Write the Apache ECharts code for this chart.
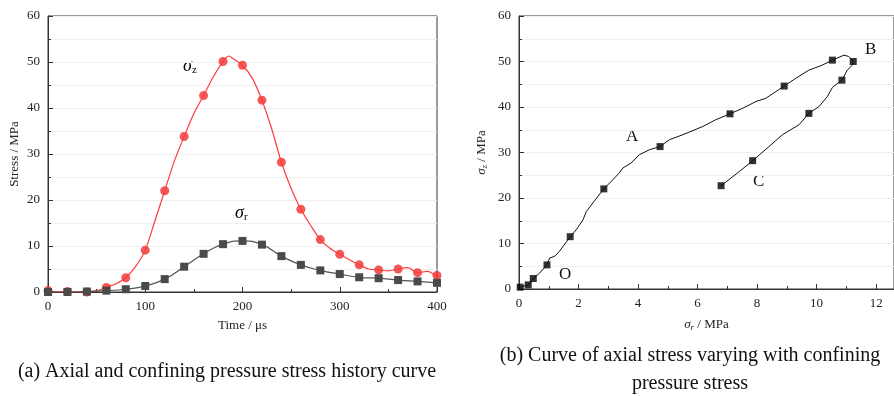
<!DOCTYPE html>
<html>
<head>
<meta charset="utf-8">
<script src="https://cdn.jsdelivr.net/npm/echarts@6/dist/echarts.min.js"></script>
<style>
  html, body { margin: 0; padding: 0; background: #fff; }
  #main { width: 894px; height: 396px; }
</style>
</head>
<body>
<div id="main"></div>
<script>
var serif = 'Liberation Serif';

// (a) stress history: markers every 20 us
var markTime = [0, 20, 40, 60, 80, 100, 120, 140, 160, 180, 200, 220, 240, 260, 280, 300, 320, 340, 360, 380, 400];
var sigmaZMarks = [0.3, 0.1, 0, 1.0, 3.1, 9.1, 22.0, 33.8, 42.7, 50.1, 49.3, 41.7, 28.2, 18.0, 11.4, 8.2, 5.9, 4.8, 5.0, 4.2, 3.6];
var sigmaRMarks = [0, 0, 0.1, 0.3, 0.6, 1.3, 2.8, 5.5, 8.3, 10.4, 11.1, 10.3, 7.8, 5.9, 4.7, 3.9, 3.2, 3.0, 2.6, 2.3, 2.0];

// (a) sigma_z trace read between markers
var zLineTime = [0, 10, 20, 30, 40, 50, 60, 70, 80, 90, 100, 110, 120, 130, 140, 150, 160, 170, 180, 186, 190, 200, 210, 220, 230, 240, 250, 260, 270, 280, 290, 300, 310, 320, 330, 340, 350, 360, 370, 380, 390, 400];
var zLineVal = [0.3, 0, 0.1, 0, 0, 0.3, 1.0, 1.8, 3.1, 5.5, 9.1, 15.5, 22.0, 28.5, 33.8, 38.8, 42.7, 46.8, 50.1, 51.3, 50.8, 49.3, 46.5, 41.7, 35.5, 28.2, 22.5, 18.0, 14.5, 11.4, 9.5, 8.2, 7.0, 5.9, 5.0, 4.8, 4.6, 5.0, 5.3, 4.2, 4.5, 3.3];

// (b) sigma_z vs sigma_r path
var pathR = [0.04, 0.31, 0.48, 0.69, 0.94, 1.03, 1.2, 1.36, 1.72, 1.92, 2.15, 2.26, 2.48, 2.85, 3.15, 3.37, 3.49, 3.77, 4.04, 4.38, 4.74, 5.05, 5.5, 6.17, 6.61, 7.09, 7.51, 7.96, 8.29, 8.91, 9.3, 9.74, 10.19, 10.53, 10.92, 11.08, 11.23, 11.2, 11.03, 10.85, 10.53, 10.36, 10.08, 9.74, 9.41, 8.85, 8.4, 7.85, 7.4, 6.79];
var pathZ = [0.4, 0.9, 2.3, 3.5, 5.3, 6.8, 7.2, 8.3, 11.5, 13.0, 15.2, 17.0, 18.9, 22.0, 24.0, 25.5, 26.6, 27.7, 29.5, 30.6, 31.3, 32.8, 33.9, 35.7, 37.2, 38.5, 39.7, 41.2, 41.9, 44.6, 46.3, 48.1, 49.2, 50.3, 51.4, 51.1, 50.0, 49.2, 48.1, 45.9, 44.3, 42.3, 40.1, 38.6, 36.1, 33.9, 31.3, 28.2, 25.8, 22.7];
var markR = [0.04, 0.31, 0.48, 0.94, 1.72, 2.85, 4.74, 7.09, 8.91, 10.53, 11.23, 10.85, 9.74, 7.85, 6.79];
var markZ = [0.4, 0.9, 2.3, 5.3, 11.5, 22.0, 31.3, 38.5, 44.6, 50.3, 50.0, 45.9, 38.6, 28.2, 22.7];

var stressTicks = { min: 0, max: 60, interval: 10 };

function zip(a, b) {
    return a.map(function (v, i) { return [v, b[i]]; });
}

var labelStyle = { fontFamily: serif, fontSize: 13, color: '#222' };
var lineStyle = { lineStyle: { color: '#333', width: 1 } };
var tickStyle = { show: true, inside: true, length: 5, lineStyle: { color: '#333' } };
var minorStyle = { show: true, splitNumber: 2, length: 3, lineStyle: { color: '#333' } };
var faint = { show: true, lineStyle: { color: '#f0f0f0', width: 1 } };

var nameRich = {
    s: { fontFamily: serif, fontStyle: 'italic', fontSize: 13, color: '#222' },
    sub: { fontFamily: serif, fontStyle: 'italic', fontSize: 9, color: '#222', padding: [6, 0, 0, 0] },
    t: { fontFamily: serif, fontSize: 13, color: '#222' }
};
var markRich = {
    s: { fontFamily: serif, fontStyle: 'italic', fontSize: 18, color: '#222' },
    sub: { fontFamily: serif, fontSize: 11, color: '#222', padding: [8, 0, 0, 0] }
};
var letterFont = '17px "Liberation Serif"';
var captionFont = '20px "Liberation Serif"';

var myChart = echarts.init(document.getElementById('main'));
option = {
    backgroundColor: '#fff',
    animation: false,
    grid: [
        { left: 48, top: 16, width: 389, height: 276, show: true, borderColor: '#333', borderWidth: 1 },
        { left: 519, top: 16, width: 376, height: 273, show: true, borderColor: '#333', borderWidth: 1 }
    ],
    xAxis: [
        {
            gridIndex: 0, type: 'value', min: 0, max: 400, interval: 100,
            name: 'Time / μs', nameLocation: 'middle', nameGap: 27,
            nameTextStyle: { fontFamily: serif, fontSize: 13, color: '#222' },
            axisLine: lineStyle, axisTick: tickStyle, minorTick: minorStyle,
            axisLabel: labelStyle, splitLine: { show: false }
        },
        {
            gridIndex: 1, type: 'value', min: 0, max: 12.6, interval: 2,
            name: '{s|σ}{sub|r}{t| / MPa}', nameLocation: 'middle', nameGap: 28,
            nameTextStyle: { rich: nameRich },
            axisLine: lineStyle, axisTick: tickStyle, minorTick: minorStyle,
            axisLabel: Object.assign({ showMaxLabel: false }, labelStyle), splitLine: { show: false }
        }
    ],
    yAxis: [
        {
            gridIndex: 0, type: 'value', min: stressTicks.min, max: stressTicks.max, interval: stressTicks.interval,
            name: 'Stress / MPa', nameLocation: 'middle', nameGap: 27,
            nameTextStyle: { fontFamily: serif, fontSize: 13, color: '#222' },
            axisLine: lineStyle, axisTick: tickStyle, minorTick: minorStyle,
            axisLabel: labelStyle, splitLine: faint, minorSplitLine: faint
        },
        {
            gridIndex: 1, type: 'value', min: stressTicks.min, max: stressTicks.max, interval: stressTicks.interval,
            name: '{s|σ}{sub|z}{t| / MPa}', nameLocation: 'middle', nameGap: 30,
            nameTextStyle: { rich: nameRich },
            axisLine: lineStyle, axisTick: tickStyle, minorTick: minorStyle,
            axisLabel: labelStyle, splitLine: faint, minorSplitLine: faint
        }
    ],
    series: [
        {
            name: 'σz line', type: 'line', xAxisIndex: 0, yAxisIndex: 0,
            data: zip(zLineTime, zLineVal), smooth: 0.3, symbol: 'none',
            lineStyle: { color: '#ff3b3b', width: 1.2 }
        },
        {
            name: 'σz', type: 'scatter', xAxisIndex: 0, yAxisIndex: 0,
            data: zip(markTime, sigmaZMarks), symbol: 'circle', symbolSize: 9,
            itemStyle: { color: '#f0302e' }
        },
        {
            name: 'σr', type: 'line', xAxisIndex: 0, yAxisIndex: 0,
            data: zip(markTime, sigmaRMarks), smooth: true, symbol: 'rect', symbolSize: 8, showAllSymbol: true,
            lineStyle: { color: '#555', width: 1.2 }, itemStyle: { color: '#4a4a4a' }
        },
        {
            name: 'path', type: 'line', xAxisIndex: 1, yAxisIndex: 1,
            data: zip(pathR, pathZ), symbol: 'none',
            lineStyle: { color: '#111', width: 1 }
        },
        {
            name: 'marks', type: 'scatter', xAxisIndex: 1, yAxisIndex: 1,
            data: zip(markR, markZ), symbol: 'rect', symbolSize: 7,
            itemStyle: { color: '#000' }
        }
    ],
    graphic: [
        { type: 'text', x: 183, y: 57, style: { text: '{s|σ}{sub|z}', rich: markRich } },
        { type: 'text', x: 235, y: 204, style: { text: '{s|σ}{sub|r}', rich: markRich } },
        { type: 'text', x: 559, y: 266, style: { text: 'O', font: letterFont, fill: '#111' } },
        { type: 'text', x: 626, y: 128, style: { text: 'A', font: letterFont, fill: '#111' } },
        { type: 'text', x: 865, y: 41, style: { text: 'B', font: letterFont, fill: '#111' } },
        { type: 'text', x: 753, y: 173, style: { text: 'C', font: letterFont, fill: '#111' } },
        {
            type: 'text', x: 227, y: 372, style: {
                text: '(a) Axial and confining pressure stress history curve',
                font: captionFont, fill: '#111', align: 'center', verticalAlign: 'middle'
            }
        },
        {
            type: 'text', x: 690, y: 370, style: {
                text: '(b) Curve of axial stress varying with confining\npressure stress',
                font: captionFont, fill: '#111', align: 'center', verticalAlign: 'middle', lineHeight: 28
            }
        }
    ]
};
myChart.setOption(option);
</script>
</body>
</html>
